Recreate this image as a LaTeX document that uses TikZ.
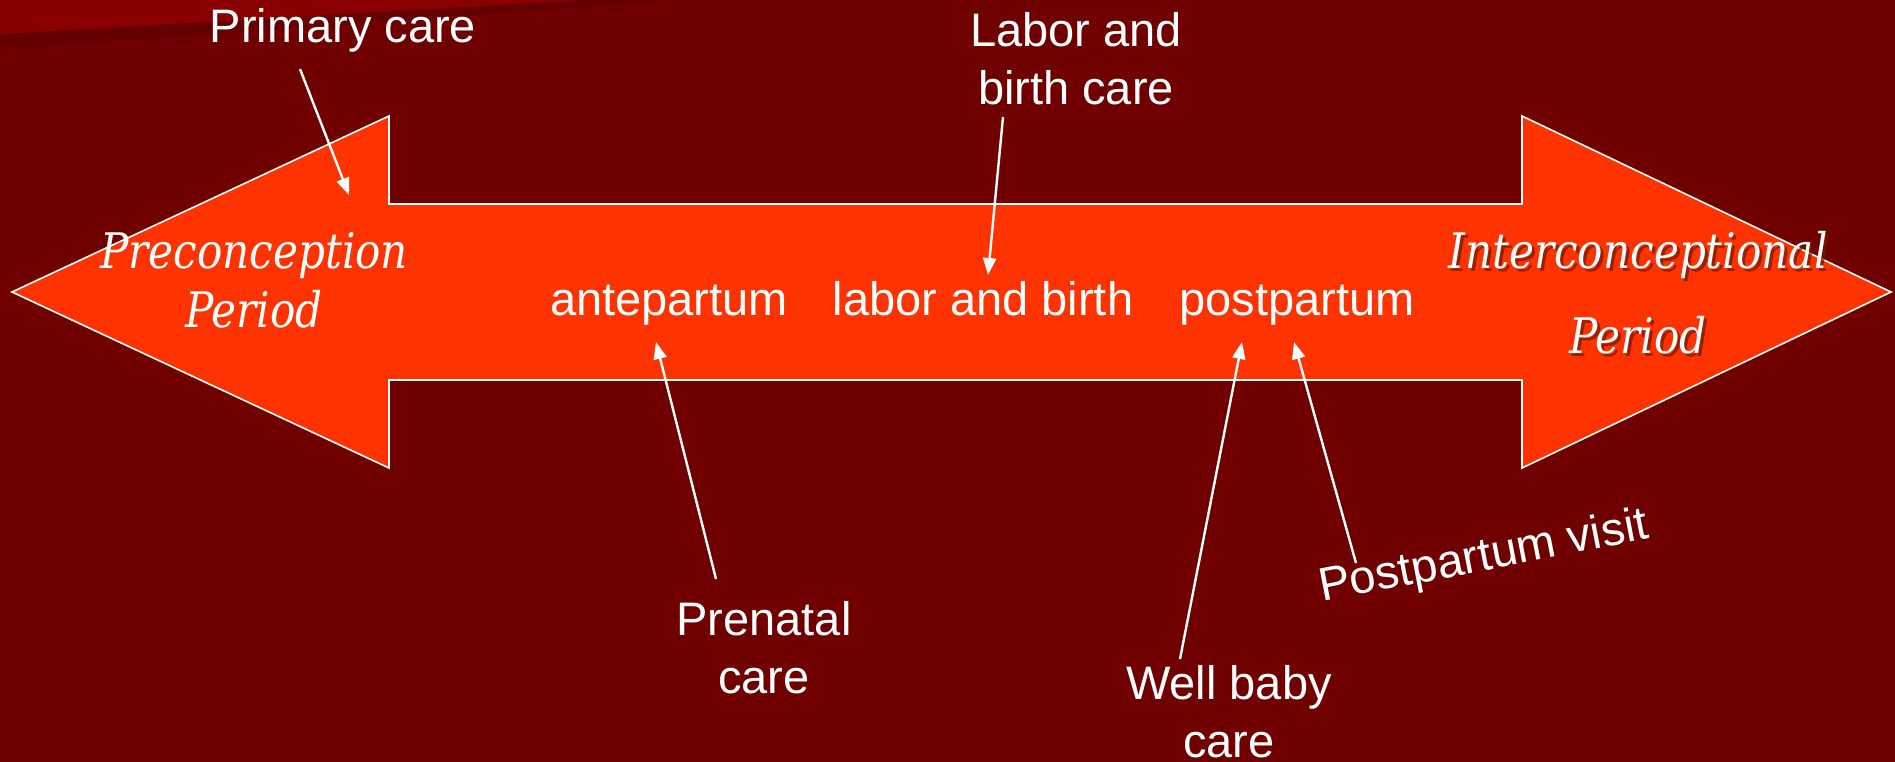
\documentclass[tikz,border=0pt]{standalone}
\usepackage{fontspec}
\setmainfont{Liberation Sans}
\newfontfamily\periodfont[FakeStretch=0.86]{DejaVu Serif}
\usetikzlibrary{arrows.meta}
\definecolor{slidebg}{HTML}{700000}
\definecolor{slideband}{HTML}{8A0000}
\definecolor{slideshade}{HTML}{640000}
\definecolor{spanfill}{HTML}{FF3300}
\begin{document}
\begin{tikzpicture}[x=1pt,y=-1pt,
lbl/.style={%
text=white,
inner sep=0pt,
align=center,
font=\fontsize{47}{58}\selectfont
},
period/.style={%
text=white,
inner sep=0pt,
align=center,
font=\periodfont\itshape\fontsize{49}{59}\selectfont
},
pointer/.style={%
draw=white,
line width=2.4pt,
-{Triangle[length=17pt,width=13pt]}
}
]
%% Background
\fill[slidebg](0,0)rectangle(1895,762);
\useasboundingbox(0,0)rectangle(1895,762);
\fill[slideshade](0,0)--(680,0)--(0,50)--cycle;
\fill[slideband](0,0)--(585,0)--(0,34)--cycle;
%% Span of care
\draw[white,line width=1.6pt,fill=spanfill](12,292)--(389,116)--(389,204)--(1522,204)--(1522,116)
  --(1891,292)--(1522,468)--(1522,380)--(389,380)--(389,468)--cycle;
%% Periods
\node[period,anchor=base]at(254,327)(pre){Preconception\\Period};
\node[period,anchor=base,text=black!55!spanfill,opacity=0.7]at(1641,356)(intershadow){Interconceptional\\[26pt]Period};
\node[period,anchor=base]at(1638,353)(inter){Interconceptional\\[26pt]Period};
%% Phases
\node[lbl,anchor=base]at(669,315)(ante){antepartum};
\node[lbl,anchor=base]at(983,315)(birth){labor and birth};
\node[lbl,anchor=base]at(1297,315)(post){postpartum};
%% Services
\node[lbl,anchor=base]at(343,43)(primary){Primary care};
\node[lbl,anchor=base]at(1076,105)(labor){Labor and\\birth care};
\node[lbl,anchor=base]at(764,693)(prenatal){Prenatal\\care};
\node[lbl,anchor=base]at(1229,757)(well){Well baby\\care};
\node[lbl,anchor=base west,rotate=11]at(1322,602)(visit){Postpartum visit};
%% Pointers
\coordinate(primaryA)at(300,69);
\coordinate(primaryB)at(349,195);
\coordinate(laborA)at(1003,117);
\coordinate(laborB)at(988,275);
\coordinate(prenatalA)at(716,579);
\coordinate(prenatalB)at(656,342);
\coordinate(wellA)at(1180,659);
\coordinate(wellB)at(1242,342);
\coordinate(visitA)at(1356,563);
\coordinate(visitB)at(1294,342);
\draw[pointer](primaryA)--(primaryB);
\draw[pointer](laborA)--(laborB);
\draw[pointer](prenatalA)--(prenatalB);
\draw[pointer](wellA)--(wellB);
\draw[pointer](visitA)--(visitB);
\end{tikzpicture}
\end{document}
